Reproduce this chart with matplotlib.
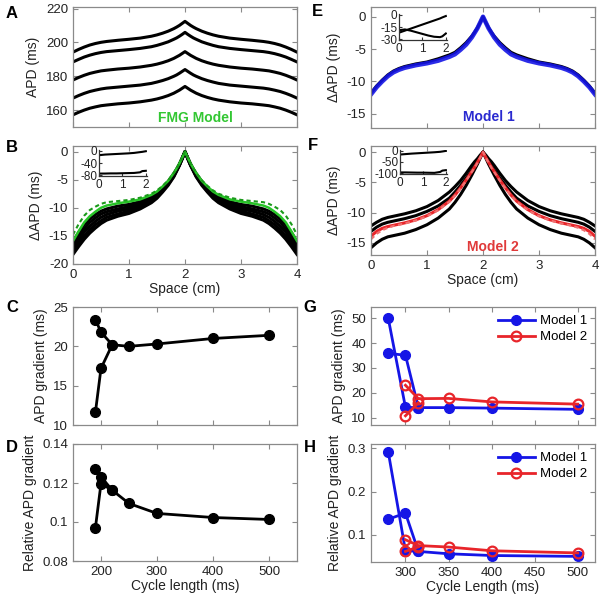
import numpy as np
import matplotlib
matplotlib.use("Agg")
import matplotlib.pyplot as plt

plt.rcParams['font.family'] = ['Liberation Sans', 'DejaVu Sans']
plt.rcParams['axes.unicode_minus'] = False

# ---------------- data ----------------
# half-profile sample positions (cm); profiles are symmetric about 2 cm
x_half = [0, 0.1, 0.2, 0.3, 0.4, 0.5, 0.6, 0.8, 1.0, 1.2, 1.4, 1.5, 1.6, 1.7, 1.8, 1.85, 1.9, 1.95, 2.0]

# Panel A: APD (ms) for five pacing rates
apd_a1 = [194.3, 195.9, 197.3, 198.5, 199.4, 200.1, 200.6, 201.3, 201.9, 202.6, 203.7, 204.5, 205.5, 206.7, 208.2, 209.1, 210.1, 211.3, 212.5]
apd_a2 = [188.5, 190.0, 191.4, 192.5, 193.4, 194.1, 194.6, 195.2, 195.8, 196.5, 197.5, 198.3, 199.3, 200.4, 201.9, 202.7, 203.7, 204.8, 206.0]
apd_a3 = [177.8, 179.3, 180.6, 181.7, 182.5, 183.2, 183.6, 184.3, 184.8, 185.5, 186.5, 187.2, 188.1, 189.2, 190.6, 191.5, 192.4, 193.5, 194.6]
apd_a4 = [167.1, 168.6, 169.9, 171.0, 171.8, 172.5, 173.0, 173.6, 174.2, 174.8, 175.8, 176.6, 177.5, 178.6, 180.0, 180.8, 181.8, 182.9, 184.0]
apd_a5 = [157.2, 158.7, 160.0, 161.1, 161.9, 162.6, 163.0, 163.7, 164.2, 164.9, 165.9, 166.6, 167.5, 168.6, 170.0, 170.9, 171.8, 172.9, 174.0]

# Panel B: dAPD (ms)
dapd_b1 = [-18.3, -16.9, -15.6, -14.5, -13.6, -12.8, -12.2, -11.5, -11.0, -10.2, -9.1, -8.3, -7.2, -6.0, -4.5, -3.5, -2.5, -1.3, 0]
dapd_b2 = [-17.7, -16.3, -15.0, -13.9, -13.0, -12.3, -11.7, -11.1, -10.6, -9.9, -8.8, -8.0, -7.0, -5.8, -4.4, -3.4, -2.4, -1.3, 0]
dapd_b3 = [-17.2, -15.7, -14.3, -13.3, -12.4, -11.7, -11.2, -10.6, -10.2, -9.6, -8.6, -7.8, -6.8, -5.7, -4.2, -3.3, -2.4, -1.2, 0]
dapd_b4 = [-16.6, -15.0, -13.7, -12.6, -11.8, -11.1, -10.7, -10.2, -9.8, -9.2, -8.3, -7.5, -6.6, -5.5, -4.1, -3.2, -2.3, -1.2, 0]
dapd_b5 = [-16.0, -14.4, -13.0, -12.0, -11.2, -10.6, -10.2, -9.7, -9.4, -8.9, -8.0, -7.3, -6.4, -5.3, -3.9, -3.1, -2.2, -1.1, 0]
dapd_b_green = [-15.9, -14.2, -12.6, -11.5, -10.7, -10.0, -9.6, -9.2, -8.9, -8.5, -7.7, -7.1, -6.2, -5.2, -3.8, -3.0, -2.1, -1.1, 0]
dapd_b_green_dash = [-14.8, -12.9, -11.4, -10.4, -9.8, -9.3, -9.0, -8.8, -8.6, -8.2, -7.5, -6.9, -6.1, -5.1, -3.8, -3.0, -2.1, -1.1, 0]

# Panel E: dAPD (ms), Model 1
dapd_e_blue = [-12.0, -10.9, -10.0, -9.2, -8.6, -8.2, -7.9, -7.5, -7.2, -6.8, -6.2, -5.8, -5.1, -4.3, -3.2, -2.5, -1.8, -0.9, 0]
dapd_e_black = [-11.8, -10.7, -9.8, -9.0, -8.4, -8.0, -7.7, -7.3, -7.0, -6.5, -5.9, -5.5, -4.8, -4.0, -3.0, -2.4, -1.7, -0.9, 0]

# Panel F: dAPD (ms), Model 2
dapd_f_k1 = [-12.2, -11.6, -11.1, -10.8, -10.6, -10.4, -10.2, -9.7, -9.0, -8.0, -6.6, -5.7, -4.7, -3.5, -2.2, -1.6, -1.1, -0.5, 0]
dapd_f_k2 = [-13.1, -12.4, -11.9, -11.6, -11.4, -11.2, -11.0, -10.5, -9.8, -8.9, -7.6, -6.6, -5.5, -4.3, -3.0, -2.3, -1.6, -0.8, 0]
dapd_f_red = [-13.9, -13.1, -12.6, -12.3, -12.1, -11.9, -11.7, -11.2, -10.5, -9.5, -8.1, -7.1, -5.9, -4.6, -3.2, -2.5, -1.7, -0.9, 0]
dapd_f_red_dash = [-14.4, -13.5, -12.9, -12.5, -12.2, -12.0, -11.8, -11.3, -10.6, -9.6, -8.2, -7.2, -6.0, -4.7, -3.3, -2.6, -1.8, -0.9, 0]
dapd_f_k3 = [-15.8, -15.0, -14.4, -14.0, -13.8, -13.6, -13.4, -12.8, -12.0, -10.9, -9.4, -8.3, -7.0, -5.5, -3.8, -2.9, -2.0, -1.0, 0]

# insets
inset_x = [0, 0.25, 0.5, 0.75, 1.0, 1.25, 1.5, 1.75, 1.85, 2.0]
inset_b_top = [-14, -12, -11, -10, -9, -8, -6.5, -4, -3, -1]
inset_b_bot = [-74, -74, -73.5, -73.5, -73, -72.5, -72, -70, -66, -65]
inset_e_1 = [-22, -19.5, -17, -14.5, -12, -9.5, -7, -4.5, -3.2, -1.5]
inset_e_2 = [-19, -18, -19.5, -21.5, -23.5, -25.5, -27, -27.5, -26.5, -23]
inset_f_top = [-17, -15, -13, -11.5, -10, -8.5, -7, -5, -3.5, -1]
inset_f_bot = [-96, -96, -96.5, -97, -97, -97.5, -98, -94, -88, -86]

# Panel C / D: FMG model vs cycle length
cl_c_main = [500, 400, 300, 250, 220, 200, 190]
grad_c_main = [21.4, 21.0, 20.3, 20.0, 20.2, 21.8, 23.4]
cl_c_alt = [220, 200, 190]
grad_c_alt = [20.2, 17.2, 11.6]
rel_d_main = [0.1013, 0.1023, 0.1044, 0.1095, 0.1163, 0.1232, 0.127]
rel_d_alt = [0.1163, 0.1197, 0.097]

# Panel G / H: Model 1 and Model 2
cl_m1_main = [500, 400, 350, 315, 300, 280]
cl_m1_alt = [315, 300, 280]
cl_m2_main = [500, 400, 350, 315, 300]
cl_m2_alt = [315, 300]
grad_m1_main = [13.3, 13.8, 14.0, 14.0, 14.1, 50.0]
grad_m1_alt = [14.0, 35.1, 35.8]
grad_m2_main = [15.4, 16.3, 17.7, 17.6, 23.0]
grad_m2_alt = [16.0, 10.7]
rel_m1_main = [0.050, 0.052, 0.056, 0.0615, 0.063, 0.292]
rel_m1_alt = [0.0615, 0.150, 0.136]
rel_m2_main = [0.058, 0.063, 0.0716, 0.075, 0.0885]
rel_m2_alt = [0.072, 0.0615]


def full(half):
    h = list(half)
    return h + h[-2::-1]


x_full = list(x_half) + [4 - v for v in x_half[-2::-1]]

# ---------------- styling helpers ----------------
SPINE = '#8a8a8a'
TXT = '#222222'
BLUE = '#1515e6'
RED = '#e8252a'


def px(l, t, r, b):
    return [l / 600, 1 - b / 600, (r - l) / 600, (b - t) / 600]


def style(ax):
    for s in ax.spines.values():
        s.set_color(SPINE)
        s.set_linewidth(0.9)
    ax.tick_params(direction='in', top=True, right=True, length=3.5,
                   color=SPINE, labelcolor=TXT, labelsize=9.5, width=0.8)


def inset_style(ax):
    ax.spines['top'].set_visible(False)
    ax.spines['right'].set_visible(False)
    for s in ['left', 'bottom']:
        ax.spines[s].set_color('#333333')
        ax.spines[s].set_linewidth(0.9)
    ax.patch.set_alpha(0)
    ax.tick_params(direction='in', length=2, labelsize=8.5, labelcolor=TXT,
                   color='#333333')
    ax.tick_params(axis='y', pad=1)
    ax.tick_params(axis='x', pad=2.5)


fig = plt.figure(figsize=(6, 6), dpi=100)
fig.patch.set_facecolor('white')

# ---------------- A ----------------
axA = fig.add_axes(px(73, 7, 297, 127))
for c in [apd_a1, apd_a2, apd_a3, apd_a4, apd_a5]:
    axA.plot(x_full, full(c), color='black', lw=2.2)
axA.set_xlim(0, 4)
axA.set_ylim(150, 221)
axA.set_yticks([160, 180, 200, 220])
axA.set_xticks([0, 1, 2, 3, 4])
axA.set_xticklabels([])
axA.set_ylabel('APD (ms)', fontsize=10, color=TXT)
axA.text(2.18, 155.5, 'FMG Model', color='#33c733', fontsize=10, fontweight='bold',
         ha='center', va='center')
style(axA)

# ---------------- B ----------------
axB = fig.add_axes(px(73, 146, 297, 264))
for c in [dapd_b1, dapd_b2, dapd_b3, dapd_b4, dapd_b5]:
    axB.plot(x_full, full(c), color='black', lw=2.2)
axB.plot(x_full, full(dapd_b_green), color='#27c427', lw=1.8)
axB.plot(x_full, full(dapd_b_green_dash), color='#1a9a1a', lw=1.5, ls=(0, (2, 1.5)))
axB.set_xlim(0, 4)
axB.set_ylim(-20, 1)
axB.set_yticks([-20, -15, -10, -5, 0])
axB.set_xticks([0, 1, 2, 3, 4])
axB.set_ylabel('\u0394APD (ms)', fontsize=10, color=TXT)
axB.set_xlabel('Space (cm)', fontsize=10, color=TXT, labelpad=1)
style(axB)

axBi = fig.add_axes(px(99, 150, 147, 176))
axBi.plot(inset_x, inset_b_top, color='black', lw=1.5)
axBi.plot(inset_x, inset_b_bot, color='black', lw=1.5)
axBi.set_xlim(0, 2.05)
axBi.set_ylim(-82, 3)
axBi.set_yticks([0, -40, -80])
axBi.set_xticks([0, 1, 2])
inset_style(axBi)

# ---------------- C ----------------
axC = fig.add_axes(px(73, 307, 297, 425))
axC.plot(cl_c_main, grad_c_main, 'o-', color='black', lw=2, ms=7)
axC.plot(cl_c_alt, grad_c_alt, 'o-', color='black', lw=2, ms=7)
axC.set_xlim(150, 550)
axC.set_ylim(10, 25)
axC.set_yticks([10, 15, 20, 25])
axC.set_xticks([200, 300, 400, 500])
axC.set_xticklabels([])
axC.set_ylabel('APD gradient (ms)', fontsize=10, color=TXT)
style(axC)

# ---------------- D ----------------
axD = fig.add_axes(px(73, 444, 297, 561))
axD.plot(cl_c_main, rel_d_main, 'o-', color='black', lw=2, ms=7)
axD.plot(cl_c_alt, rel_d_alt, 'o-', color='black', lw=2, ms=7)
axD.set_xlim(150, 550)
axD.set_ylim(0.08, 0.14)
axD.set_yticks([0.08, 0.1, 0.12, 0.14])
axD.set_yticklabels(['0.08', '0.1', '0.12', '0.14'])
axD.set_xticks([200, 300, 400, 500])
axD.set_ylabel('Relative APD gradient', fontsize=10, color=TXT)
axD.set_xlabel('Cycle length (ms)', fontsize=10, color=TXT, labelpad=1)
style(axD)

# ---------------- E ----------------
axE = fig.add_axes(px(371, 7, 595, 128))
axE.plot(x_full, full(dapd_e_black), color='black', lw=2.2)
axE.plot(x_full, full(dapd_e_blue), color=BLUE, lw=3.2, alpha=0.9)
axE.set_xlim(0, 4)
axE.set_ylim(-17.2, 1.5)
axE.set_yticks([-15, -10, -5, 0])
axE.set_xticks([0, 1, 2, 3, 4])
axE.set_xticklabels([])
axE.set_ylabel('\u0394APD (ms)', fontsize=10, color=TXT)
axE.text(2.1, -15.5, 'Model 1', color='#2a2ad0', fontsize=10, fontweight='bold',
         ha='center', va='center')
style(axE)

axEi = fig.add_axes(px(399, 14, 447, 40))
axEi.plot(inset_x, inset_e_1, color='black', lw=1.5)
axEi.plot(inset_x, inset_e_2, color='black', lw=1.5)
axEi.set_xlim(0, 2.05)
axEi.set_ylim(-31, 1)
axEi.set_yticks([0, -15, -30])
axEi.set_xticks([0, 1, 2])
inset_style(axEi)

# ---------------- F ----------------
axF = fig.add_axes(px(371, 146, 595, 255))
for c in [dapd_f_k1, dapd_f_k2, dapd_f_k3]:
    axF.plot(x_full, full(c), color='black', lw=2.2)
axF.plot(x_full, full(dapd_f_red), color=RED, lw=2.2)
axF.plot(x_full, full(dapd_f_red_dash), color='#f07070', lw=1.6, ls=(0, (2, 1.5)))
axF.set_xlim(0, 4)
axF.set_ylim(-17, 1)
axF.set_yticks([-15, -10, -5, 0])
axF.set_xticks([0, 1, 2, 3, 4])
axF.set_ylabel('\u0394APD (ms)', fontsize=10, color=TXT)
axF.set_xlabel('Space (cm)', fontsize=10, color=TXT, labelpad=1)
axF.text(2.18, -15.6, 'Model 2', color='#e03a3a', fontsize=10, fontweight='bold',
         ha='center', va='center')
style(axF)

axFi = fig.add_axes(px(400, 150, 447, 174))
axFi.plot(inset_x, inset_f_top, color='black', lw=1.5)
axFi.plot(inset_x, inset_f_bot, color='black', lw=1.5)
axFi.set_xlim(0, 2.05)
axFi.set_ylim(-103, 3)
axFi.set_yticks([0, -50, -100])
axFi.set_xticks([0, 1, 2])
inset_style(axFi)

# ---------------- G ----------------
axG = fig.add_axes(px(371, 307, 595, 425))
axG.plot(cl_m1_main, grad_m1_main, 'o-', color=BLUE, lw=2, ms=7, label='Model 1')
axG.plot(cl_m1_alt, grad_m1_alt, 'o-', color=BLUE, lw=2, ms=7)
axG.plot(cl_m2_main, grad_m2_main, 'o-', color=RED, lw=2, ms=7, mfc='none', mew=1.6, label='Model 2')
axG.plot(cl_m2_alt, grad_m2_alt, 'o-', color=RED, lw=2, ms=7, mfc='none', mew=1.6)
axG.set_xlim(260, 520)
axG.set_ylim(7, 54.5)
axG.set_yticks([10, 20, 30, 40, 50])
axG.set_xticks([300, 350, 400, 450, 500])
axG.set_xticklabels([])
axG.set_ylabel('APD gradient (ms)', fontsize=10, color=TXT)
axG.legend(loc='upper right', frameon=False, fontsize=9.5, handlelength=2.8,
           borderaxespad=0.2, labelspacing=0.3, handletextpad=0.4)
style(axG)

# ---------------- H ----------------
axH = fig.add_axes(px(371, 444, 595, 562))
axH.plot(cl_m1_main, rel_m1_main, 'o-', color=BLUE, lw=2, ms=7, label='Model 1')
axH.plot(cl_m1_alt, rel_m1_alt, 'o-', color=BLUE, lw=2, ms=7)
axH.plot(cl_m2_main, rel_m2_main, 'o-', color=RED, lw=2, ms=7, mfc='none', mew=1.6, label='Model 2')
axH.plot(cl_m2_alt, rel_m2_alt, 'o-', color=RED, lw=2, ms=7, mfc='none', mew=1.6)
axH.set_xlim(260, 520)
axH.set_ylim(0.037, 0.31)
axH.set_yticks([0.1, 0.2, 0.3])
axH.set_xticks([300, 350, 400, 450, 500])
axH.set_ylabel('Relative APD gradient', fontsize=10, color=TXT)
axH.set_xlabel('Cycle Length (ms)', fontsize=10, color=TXT, labelpad=1)
axH.legend(loc='upper right', frameon=False, fontsize=9.5, handlelength=2.8,
           borderaxespad=0.2, labelspacing=0.3, handletextpad=0.4)
style(axH)

# panel letters
for lab, (xx, yy) in {'A': (12, 13), 'B': (12, 147), 'C': (12, 308), 'D': (12, 447),
                      'E': (317, 12), 'F': (313, 145), 'G': (310, 307), 'H': (310, 447)}.items():
    fig.text(xx / 600, 1 - yy / 600, lab, fontsize=12, fontweight='bold',
             ha='center', va='center', color='black')

fig.savefig('out.png', dpi=100, facecolor='white')
